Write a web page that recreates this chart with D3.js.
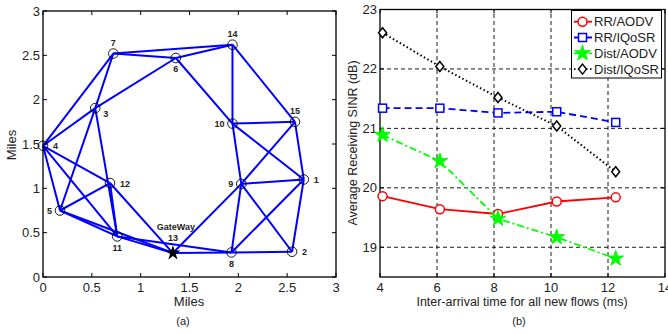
<!DOCTYPE html>
<html>
<head>
<meta charset="utf-8">
<script src="https://cdn.jsdelivr.net/npm/d3@7/dist/d3.min.js"></script>
<style>
body{margin:0;background:#fff;}
svg{display:block;font-family:"Liberation Sans",Arial,Helvetica,sans-serif;}
</style>
</head>
<body>
<svg id="c" width="668" height="334"></svg>
<script>
// ---------- Data: panel (a) network topology (miles) ----------
const nodeIds = [1,2,3,4,5,6,7,8,9,10,11,12,13,14,15];
const nodeX = [2.67,2.55,0.535,0.0,0.174,1.36,0.72,1.93,2.03,1.94,0.76,0.686,1.33,1.94,2.58];
const nodeY = [1.10,0.285,1.905,1.48,0.75,2.47,2.52,0.277,1.05,1.73,0.458,1.06,0.27,2.62,1.75];
const labelSide = ["r","r","rb","r","l","b","t","b","l","l","b","r","g","t","t"];
const gatewayId = 13;
const gatewayName = "GateWay";
const edges = [
  [7,14],[7,6],[6,14],[7,4],[7,3],[6,3],[3,4],[3,5],[3,11],
  [4,5],[4,12],[4,11],[5,12],[5,11],[5,13],[12,11],[12,13],
  [11,13],[11,8],[13,8],[8,2],[13,9],[9,8],[9,2],[9,1],[9,15],
  [9,10],[8,1],[2,1],[1,15],[10,1],[10,15],[10,14],[6,10],[14,15]
];
const axisTicksA = [0,0.5,1,1.5,2,2.5,3];
const axisLabelA = "Miles";

// ---------- Data: panel (b) SINR vs inter-arrival time ----------
const seriesNames = ["RR/AODV","RR/IQoSR","Dist/AODV","Dist/IQoSR"];
const xRRAODV  = [4.09,6.1,8.14,10.2,12.27];
const yRRAODV  = [19.86,19.64,19.56,19.77,19.84];
const xRRIQoSR = [4.09,6.1,8.14,10.2,12.27];
const yRRIQoSR = [21.34,21.34,21.26,21.28,21.10];
const xDistAODV = [4.09,6.1,8.14,10.2,12.27];
const yDistAODV = [20.89,20.45,19.48,19.17,18.81];
const xDistIQoSR = [4.09,6.1,8.14,10.2,12.27];
const yDistIQoSR = [22.61,22.04,21.52,21.04,20.27];
const xTicksB = [4,6,8,10,12,14];
const yTicksB = [19,20,21,22,23];
const xLabelB = "Inter-arrival time for all new flows (ms)";
const yLabelB = "Average Receiving SINR (dB)";

const svg = d3.select("#c");
const tickFont = 13;

// ======== Panel (a) ========
const xa = d3.scaleLinear().domain([0,3]).range([43,336]);
const ya = d3.scaleLinear().domain([0,3]).range([277,11]);
const ga = svg.append("g");

const pos = id => { const i = nodeIds.indexOf(id); return [xa(nodeX[i]), ya(nodeY[i])]; };

ga.append("g").selectAll("line").data(edges).join("line")
  .attr("x1", d=>pos(d[0])[0]).attr("y1", d=>pos(d[0])[1])
  .attr("x2", d=>pos(d[1])[0]).attr("y2", d=>pos(d[1])[1])
  .attr("stroke","#0000ff").attr("stroke-width",2);

const nodes = nodeIds.map((id,i)=>({id, x:nodeX[i], y:nodeY[i], side:labelSide[i]}));
ga.append("g").selectAll("circle").data(nodes.filter(d=>d.id!==gatewayId)).join("circle")
  .attr("cx", d=>xa(d.x)).attr("cy", d=>ya(d.y)).attr("r",4.8)
  .attr("fill","none").attr("stroke","#000").attr("stroke-width",0.9);

const gw = nodes.find(d=>d.id===gatewayId);
ga.append("path").attr("d", d3.symbol(d3.symbolStar, 70)())
  .attr("transform",`translate(${xa(gw.x)},${ya(gw.y)})`).attr("fill","#000");

const off = {r:[10,0,"start"], l:[-8,0,"end"], b:[0,11,"middle"], t:[0,-11,"middle"], rb:[8,5,"start"], g:[0,-16,"middle"]};
ga.append("g").selectAll("text").data(nodes).join("text")
  .attr("x", d=>xa(d.x)+off[d.side][0]).attr("y", d=>ya(d.y)+off[d.side][1]+3.5)
  .attr("text-anchor", d=>off[d.side][2])
  .attr("font-size",9).attr("font-weight","bold").attr("fill","#222")
  .text(d=>d.id);
ga.append("text").attr("x", xa(gw.x)+3).attr("y", ya(gw.y)-23.5)
  .attr("text-anchor","middle").attr("font-size",9).attr("font-weight","bold").attr("fill","#222")
  .text(gatewayName);

function frame(g, x, y, xt, yt, fmtX, fmtY, grid){
  const [x0,x1] = x.range(), [y0,y1] = y.range();
  if (grid){
    g.append("g").selectAll("line").data(xt.slice(1,-1)).join("line")
      .attr("x1",d=>x(d)).attr("x2",d=>x(d)).attr("y1",y0).attr("y2",y1)
      .attr("stroke","#000").attr("stroke-width",0.9).attr("stroke-dasharray","4,3");
    g.append("g").selectAll("line").data(yt.filter(d=>y(d)>y1+1 && y(d)<y0-1)).join("line")
      .attr("x1",x0).attr("x2",x1).attr("y1",d=>y(d)).attr("y2",d=>y(d))
      .attr("stroke","#000").attr("stroke-width",0.9).attr("stroke-dasharray","4,3");
  }
  const tl = 4;
  const ax = g.append("g").attr("stroke","#000").attr("stroke-width",1);
  xt.forEach(t=>{
    ax.append("line").attr("x1",x(t)).attr("x2",x(t)).attr("y1",y0).attr("y2",y0-tl);
    ax.append("line").attr("x1",x(t)).attr("x2",x(t)).attr("y1",y1).attr("y2",y1+tl);
  });
  yt.forEach(t=>{
    ax.append("line").attr("y1",y(t)).attr("y2",y(t)).attr("x1",x0).attr("x2",x0+tl);
    ax.append("line").attr("y1",y(t)).attr("y2",y(t)).attr("x1",x1).attr("x2",x1-tl);
  });
  g.append("rect").attr("x",x0).attr("y",y1).attr("width",x1-x0).attr("height",y0-y1)
    .attr("fill","none").attr("stroke","#000").attr("stroke-width",1.3);
  g.append("g").selectAll("text").data(xt).join("text")
    .attr("x",d=>x(d)).attr("y",y0+15).attr("text-anchor","middle")
    .attr("font-size",tickFont).attr("fill","#222").text(fmtX);
  g.append("g").selectAll("text").data(yt).join("text")
    .attr("x",x0-3).attr("y",d=>y(d)+4.5).attr("text-anchor","end")
    .attr("font-size",tickFont).attr("fill","#222").text(fmtY);
}
const fmtA = d=> d;
frame(ga, xa, ya, axisTicksA, axisTicksA, fmtA, fmtA, false);
ga.append("text").attr("x",189).attr("y",306).attr("text-anchor","middle")
  .attr("font-size",13).attr("fill","#222").text(axisLabelA);
ga.append("text").attr("transform","translate(16,145) rotate(-90)").attr("text-anchor","middle")
  .attr("font-size",13).attr("fill","#222").text(axisLabelA);
ga.append("text").attr("x",183).attr("y",325).attr("text-anchor","middle")
  .attr("font-size",11).attr("fill","#222").text("(a)");

// ======== Panel (b) ========
const xb = d3.scaleLinear().domain([4,14]).range([380,665]);
const yb = d3.scaleLinear().domain([18.5,23]).range([277,9.5]);
const gb = svg.append("g");
frame(gb, xb, yb, xTicksB, yTicksB, d=>d, d=>d, true);

const series = [
  {name:seriesNames[0], xs:xRRAODV, ys:yRRAODV, color:"#ff0000", dash:null, marker:"circle"},
  {name:seriesNames[1], xs:xRRIQoSR, ys:yRRIQoSR, color:"#0000ff", dash:"7,4", marker:"square"},
  {name:seriesNames[2], xs:xDistAODV, ys:yDistAODV, color:"#00ff00", dash:"7,3,2,3", marker:"star"},
  {name:seriesNames[3], xs:xDistIQoSR, ys:yDistIQoSR, color:"#000000", dash:"1.5,2.5", marker:"diamond"}
];
function drawMarker(g, type, color, cx, cy){
  if (type==="circle") g.append("circle").attr("cx",cx).attr("cy",cy).attr("r",4.5)
    .attr("fill","#fff").attr("stroke",color).attr("stroke-width",1.5);
  else if (type==="square") g.append("rect").attr("x",cx-4).attr("y",cy-4).attr("width",8).attr("height",8)
    .attr("fill","#fff").attr("stroke",color).attr("stroke-width",1.5);
  else if (type==="star") g.append("path").attr("d",d3.symbol(d3.symbolStar,75)())
    .attr("transform",`translate(${cx},${cy})`).attr("fill",color).attr("stroke",color).attr("stroke-width",1);
  else if (type==="diamond") g.append("path").attr("d",`M0,-5L4,0L0,5L-4,0Z`)
    .attr("transform",`translate(${cx},${cy})`).attr("fill","#fff").attr("stroke",color).attr("stroke-width",1.5);
}
series.forEach(s=>{
  const pts = s.xs.map((x,i)=>[xb(x), yb(s.ys[i])]);
  gb.append("path").attr("d", d3.line()(pts)).attr("fill","none")
    .attr("stroke",s.color).attr("stroke-width",s.marker==="diamond"?2:1.8)
    .attr("stroke-dasharray",s.dash);
  pts.forEach(p=>drawMarker(gb, s.marker, s.color, p[0], p[1]));
});

// legend
const lg = gb.append("g");
lg.append("rect").attr("x",571.5).attr("y",10.5).attr("width",90).attr("height",67.5)
  .attr("fill","#fff").attr("stroke","#000").attr("stroke-width",1);
series.forEach((s,i)=>{
  const yy = 21.7 + i*15.8;
  lg.append("line").attr("x1",574).attr("x2",592).attr("y1",yy).attr("y2",yy)
    .attr("stroke",s.color).attr("stroke-width",1.8).attr("stroke-dasharray",s.dash);
  drawMarker(lg, s.marker, s.color, 582.5, yy);
  lg.append("text").attr("x",594).attr("y",yy+4.5).attr("font-size",13).attr("fill","#222").text(s.name);
});

gb.append("text").attr("x",522).attr("y",306).attr("text-anchor","middle")
  .attr("font-size",12.5).attr("fill","#222").text(xLabelB);
gb.append("text").attr("transform","translate(357,143) rotate(-90)").attr("text-anchor","middle")
  .attr("font-size",12.5).attr("fill","#222").text(yLabelB);
gb.append("text").attr("x",519).attr("y",325).attr("text-anchor","middle")
  .attr("font-size",11).attr("fill","#222").text("(b)");
</script>
</body>
</html>
